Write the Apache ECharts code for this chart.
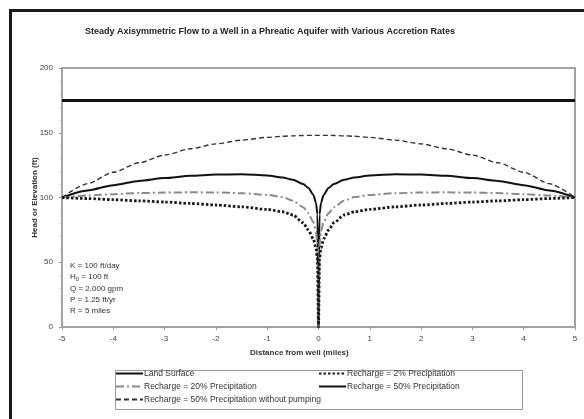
<!DOCTYPE html>
<html>
<head>
<meta charset="utf-8">
<style>
  html, body { margin: 0; padding: 0; background: #fff; }
  #chart { width: 584px; height: 419px; }
</style>
<script src="https://cdn.jsdelivr.net/npm/echarts@6/dist/echarts.min.js"></script>
</head>
<body>
<div id="chart"></div>
<script>
// Distance from the well (miles)
var distance = [-5, -4.5, -4, -3.5, -3, -2.5, -2, -1.5, -1, -0.7, -0.5, -0.3, -0.2, -0.1, -0.05, -0.02, 0,
                0.02, 0.05, 0.1, 0.2, 0.3, 0.5, 0.7, 1, 1.5, 2, 2.5, 3, 3.5, 4, 4.5, 5];

// Head (ft) for each recharge case
var landSurface = [175, 175, 175, 175, 175, 175, 175, 175, 175, 175, 175, 175, 175, 175, 175, 175, 175,
                   175, 175, 175, 175, 175, 175, 175, 175, 175, 175, 175, 175, 175, 175, 175, 175];
var recharge2 = [100, 99.2, 98.3, 97.4, 96.5, 95.4, 94.2, 92.8, 90.8, 89, 86.5, 80.5, 75, 68, 61, 52, 0,
                 52, 61, 68, 75, 80.5, 86.5, 89, 90.8, 92.8, 94.2, 95.4, 96.5, 97.4, 98.3, 99.2, 100];
var recharge20 = [100, 101.5, 102.6, 103.4, 103.8, 104, 103.9, 103.3, 102, 100.3, 97.5, 92.5, 88, 81, 74, 64, 0,
                  64, 74, 81, 88, 92.5, 97.5, 100.3, 102, 103.3, 103.9, 104, 103.8, 103.4, 102.6, 101.5, 100];
var recharge50 = [100, 105.5, 109.5, 112.8, 115, 116.8, 117.7, 118, 117, 115.5, 113.7, 110.5, 107.5, 102, 96, 87, 0,
                  87, 96, 102, 107.5, 110.5, 113.7, 115.5, 117, 118, 117.7, 116.8, 115, 112.8, 109.5, 105.5, 100];
var recharge50NoPump = [100, 110.7, 119.5, 126.8, 132.7, 137.6, 141.4, 144.3, 146.4, 147.3, 147.6, 147.9, 148, 148, 148, 148, 148,
                        148, 148, 148, 148, 147.9, 147.6, 147.3, 146.4, 144.3, 141.4, 137.6, 132.7, 126.8, 119.5, 110.7, 100];

var seriesNames = [
  'Land Surface',
  'Recharge = 2% Precipitation',
  'Recharge = 20% Precipitation',
  'Recharge = 50% Precipitation',
  'Recharge = 50% Precipitation without pumping'
];

// Tick labels
var xTicks = [-5, -4, -3, -2, -1, 0, 1, 2, 3, 4, 5];
var yTicks = [0, 50, 100, 150, 200];

// Parameter notes shown inside the plot
var notes = ['K = 100 ft/day', 'H{s|0} = 100 ft', 'Q = 2,000 gpm', 'P = 1.25 ft/yr', 'R = 5 miles'];

function pairs(ys) {
  return distance.map(function (x, i) { return [x, ys[i]]; });
}

var FONT = 'Liberation Sans, Arial, sans-serif';

var styles = [
  { color: '#111', width: 3, type: 'solid' },
  { color: '#1a1a1a', width: 2.8, type: [2.5, 2] },
  { color: '#8a8a8a', width: 2, type: [8, 3, 2, 3] },
  { color: '#111', width: 2, type: 'solid' },
  { color: '#333', width: 1.4, type: [5, 3] }
];
var values = [landSurface, recharge2, recharge20, recharge50, recharge50NoPump];

var series = seriesNames.map(function (name, i) {
  return {
    name: name,
    type: 'line',
    data: pairs(values[i]),
    symbol: 'none',
    smooth: i === 0 ? false : 0.25,
    smoothMonotone: 'x',
    lineStyle: { color: styles[i].color, width: styles[i].width, type: styles[i].type },
    itemStyle: { color: styles[i].color },
    z: 10 - i
  };
});

// Legend placement: two columns, three rows
var legendPos = [
  { left: 115, top: 369 },
  { left: 318, top: 369 },
  { left: 115, top: 382 },
  { left: 318, top: 382 },
  { left: 115, top: 395 }
];
var legends = seriesNames.map(function (name, i) {
  return {
    data: [name],
    left: legendPos[i].left,
    top: legendPos[i].top,
    padding: 0,
    itemWidth: 27,
    itemHeight: 10,
    itemGap: 0,
    selectedMode: false,
    itemStyle: { opacity: 0 },
    textStyle: { fontFamily: FONT, fontSize: 8.5, color: '#333', padding: [0, 0, 0, -4] }
  };
});

var noteGraphics = notes.map(function (t, i) {
  return {
    type: 'text',
    left: 70,
    top: 262 + i * 11.2,
    style: {
      text: t,
      fontFamily: FONT,
      fontSize: 8,
      fill: '#333',
      rich: { s: { fontSize: 6, fill: '#333', padding: [4, 0, 0, 0] } }
    }
  };
});

var chart = echarts.init(document.getElementById('chart'), null, { renderer: 'canvas' });
chart.setOption({
  animation: false,
  backgroundColor: '#fff',
  title: {
    text: 'Steady Axisymmetric Flow to a Well in a Phreatic Aquifer with Various Accretion Rates',
    left: 85,
    top: 27,
    padding: 0,
    textStyle: { fontFamily: FONT, fontSize: 9, fontWeight: 'bold', color: '#222' }
  },
  legend: legends,
  grid: {
    left: 62, right: 9, top: 68, bottom: 92,
    show: true,
    borderColor: '#a3a3a3',
    borderWidth: 2,
    backgroundColor: '#fff'
  },
  xAxis: {
    type: 'value',
    min: xTicks[0],
    max: xTicks[xTicks.length - 1],
    interval: 1,
    axisLine: { onZero: false, lineStyle: { color: '#a3a3a3', width: 2 } },
    axisTick: { show: true, length: 3, lineStyle: { color: '#999' } },
    axisLabel: { fontFamily: FONT, fontSize: 8, color: '#444', margin: 8 },
    splitLine: { show: false }
  },
  yAxis: {
    type: 'value',
    min: yTicks[0],
    max: yTicks[yTicks.length - 1],
    interval: 50,
    name: 'Head or Elevation (ft)',
    nameLocation: 'middle',
    nameGap: 23,
    nameMoveOverlap: false,
    nameTextStyle: { fontFamily: FONT, fontSize: 8, fontWeight: 'bold', color: '#333' },
    axisLine: { onZero: false, lineStyle: { color: '#a3a3a3', width: 2 } },
    axisTick: { show: true, length: 3, lineStyle: { color: '#999' } },
    minorTick: { show: true, splitNumber: 5, length: 2, lineStyle: { color: '#bbb' } },
    axisLabel: { fontFamily: FONT, fontSize: 8, color: '#444', margin: 9 },
    splitLine: { show: false }
  },
  series: series,
  graphic: [
    {
      type: 'rect',
      left: 8, top: 8,
      shape: { width: 600, height: 450 },
      style: { fill: 'none', stroke: '#1a1a1a', lineWidth: 3 },
      z: -1, silent: true
    },
    {
      type: 'rect',
      left: 113, top: 368,
      shape: { width: 407, height: 39 },
      style: { fill: 'none', stroke: '#9a9a9a', lineWidth: 1 },
      silent: true
    },
    {
      type: 'text',
      left: 250, top: 349,
      style: { text: 'Distance from well (miles)', fontFamily: FONT, fontSize: 8, fontWeight: 'bold', fill: '#333' }
    }
  ].concat(noteGraphics)
});
</script>
</body>
</html>
